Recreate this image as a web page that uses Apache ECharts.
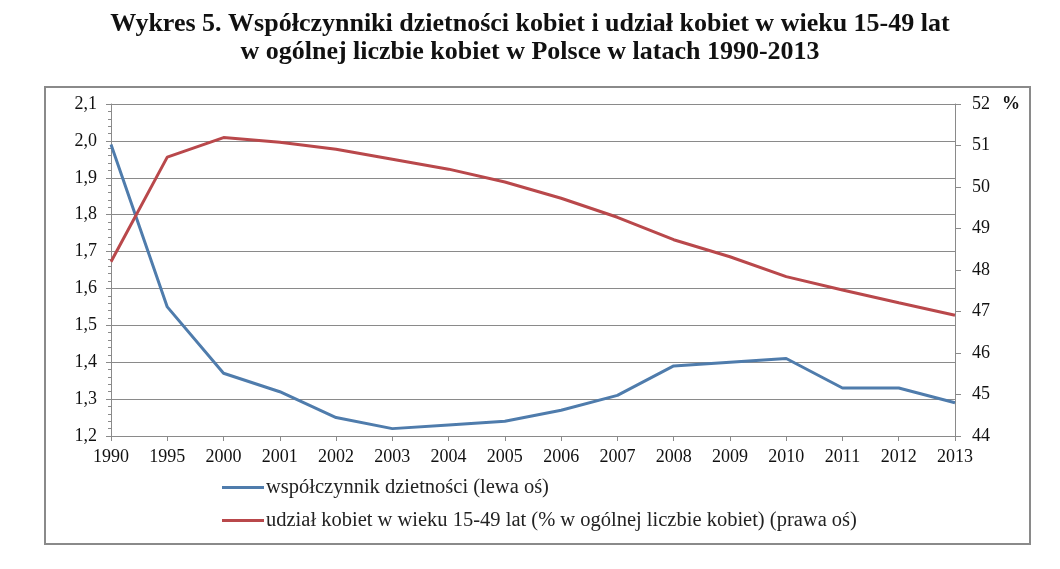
<!DOCTYPE html>
<html>
<head>
<meta charset="utf-8">
<script src="https://cdn.jsdelivr.net/npm/echarts@6/dist/echarts.min.js"></script>
<style>
    html, body { margin: 0; padding: 0; background: #fff; }
    #chart { width: 1060px; height: 569px; }
</style>
</head>
<body>
<div id="chart"></div>
<script>
var years = ['1990', '1995', '2000', '2001', '2002', '2003', '2004', '2005',
    '2006', '2007', '2008', '2009', '2010', '2011', '2012', '2013'];

// współczynnik dzietności (lewa oś)
var fertility = [1.99, 1.55, 1.37, 1.32, 1.25, 1.22, 1.23, 1.24,
    1.27, 1.31, 1.39, 1.40, 1.41, 1.33, 1.33, 1.29];

// udział kobiet w wieku 15-49 lat, % (prawa oś)
var shareWomen = [48.2, 50.72, 51.19, 51.08, 50.91, 50.67, 50.43, 50.12,
    49.73, 49.27, 48.73, 48.32, 47.84, 47.52, 47.21, 46.91];

var titleLines = ['Wykres 5. Współczynniki dzietności kobiet i udział kobiet w wieku 15-49 lat',
    'w ogólnej liczbie kobiet w Polsce w latach 1990-2013'];

var seriesNames = ['współczynnik dzietności (lewa oś)',
    'udział kobiet w wieku 15-49 lat (% w ogólnej liczbie kobiet) (prawa oś)'];

var serif = '"Liberation Serif", "DejaVu Serif", serif';

function draw() {
    var chart = echarts.init(document.getElementById('chart'));

    var option = {
        backgroundColor: '#fff',
        animation: false,
        textStyle: { fontFamily: serif },
        title: {
            text: titleLines.join('\n'),
            left: 'center',
            top: 5,
            textStyle: {
                fontFamily: serif,
                fontWeight: 'bold',
                fontSize: 26,
                lineHeight: 28,
                color: '#111'
            }
        },
        graphic: [
            {
                type: 'rect',
                shape: { x: 45, y: 87, width: 985, height: 457 },
                style: { fill: 'none', stroke: '#8a8a8a', lineWidth: 2 }
            },
            {
                type: 'text',
                left: 1002,
                top: 95,
                style: { text: '%', font: 'bold 18px ' + serif, fill: '#111' }
            }
        ],
        legend: {
            orient: 'vertical',
            left: 222,
            top: 477,
            padding: 0,
            itemWidth: 42,
            itemHeight: 3,
            itemGap: 12,
            icon: 'rect',
            textStyle: { fontFamily: serif, fontSize: 20.5, color: '#222', padding: [0, 0, 0, -3] },
            data: seriesNames
        },
        grid: {
            left: 111,
            right: 105,
            top: 104,
            bottom: 133
        },
        xAxis: {
            type: 'category',
            boundaryGap: false,
            data: years,
            axisLine: { lineStyle: { color: '#8a8a8a', width: 1 } },
            axisTick: { show: true, length: 5, alignWithLabel: true, lineStyle: { color: '#8a8a8a' } },
            axisLabel: { color: '#111', fontSize: 18, margin: 12, fontFamily: serif, interval: 0 }
        },
        yAxis: [
            {
                type: 'value',
                min: 1.2,
                max: 2.1,
                interval: 0.1,
                axisLine: { show: true, lineStyle: { color: '#8a8a8a' } },
                axisTick: { show: true, length: 5, lineStyle: { color: '#8a8a8a' } },
                minorTick: { show: true, splitNumber: 5, length: 3, lineStyle: { color: '#8a8a8a' } },
                splitLine: { show: true, lineStyle: { color: '#8a8a8a', width: 1 } },
                axisLabel: {
                    color: '#111',
                    fontSize: 18,
                    margin: 14,
                    fontFamily: serif,
                    formatter: function (v) { return v.toFixed(1).replace('.', ','); }
                }
            },
            {
                type: 'value',
                min: 44,
                max: 52,
                interval: 1,
                position: 'right',
                axisLine: { show: true, lineStyle: { color: '#8a8a8a' } },
                axisTick: { show: true, length: 6, lineStyle: { color: '#8a8a8a' } },
                splitLine: { show: false },
                axisLabel: { color: '#111', fontSize: 18, margin: 17, fontFamily: serif }
            }
        ],
        series: [
            {
                name: seriesNames[0],
                type: 'line',
                yAxisIndex: 0,
                data: fertility,
                symbol: 'none',
                lineStyle: { color: '#4f7cac', width: 3 },
                itemStyle: { color: '#4f7cac' }
            },
            {
                name: seriesNames[1],
                type: 'line',
                yAxisIndex: 1,
                data: shareWomen,
                symbol: 'none',
                lineStyle: { color: '#b9484b', width: 3 },
                itemStyle: { color: '#b9484b' }
            }
        ]
    };

    chart.setOption(option);

    window.onresize = chart.resize;
}

draw();
</script>
</body>
</html>
